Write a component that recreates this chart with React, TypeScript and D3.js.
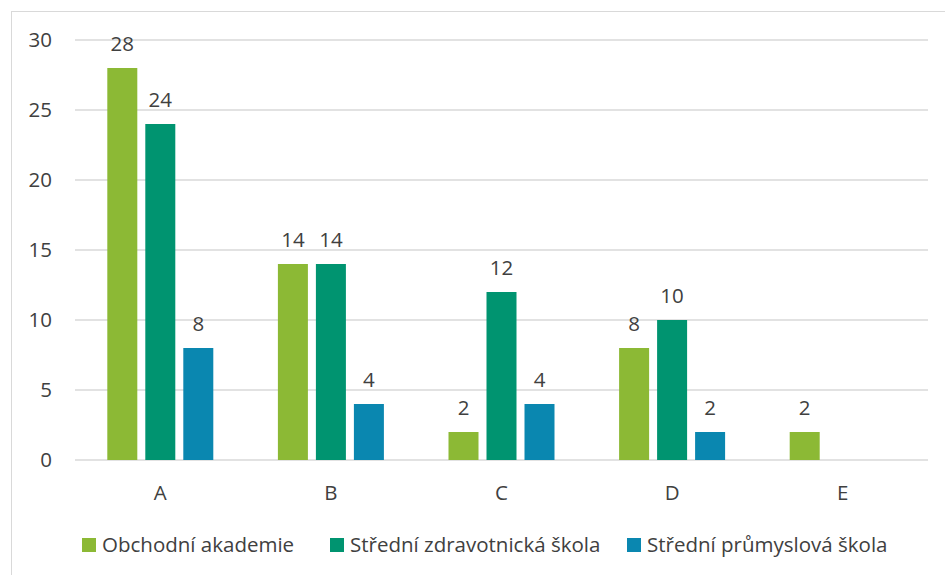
import React from "react";
import * as d3 from "d3";

const categories = ["A", "B", "C", "D", "E"];
const seriesNames = [
  "Obchodní akademie",
  "Střední zdravotnická škola",
  "Střední průmyslová škola",
];
const obchodni = [28, 14, 2, 8, 2];
const zdravotnicka = [24, 14, 12, 10, null];
const prumyslova = [8, 4, 4, 2, null];
const yTicks = [0, 5, 10, 15, 20, 25, 30];
const colors = ["#8cb935", "#009470", "#0a87b0"];

const W = 945;
const H = 575;
const FONT = "'Open Sans', sans-serif";
const TEXT = "#404040";
const FS = 20.5;

export default function App() {
  const series = [obchodni, zdravotnicka, prumyslova];
  const x = d3.scaleBand<string>().domain(categories).range([75, 928]);
  const y = d3.scaleLinear().domain([0, 30]).range([460, 40]);
  const barW = 30;
  const gap = 8;
  const groupW = barW * 3 + gap * 2;
  const legendX = [82, 330, 627];

  return (
    <svg
      width={W}
      height={H}
      style={{ position: "absolute", left: 0, top: 0, background: "#fff" }}
      fontFamily={FONT}
    >
      <rect x={11.5} y={11.5} width={960} height={600} fill="#fff" stroke="#d9d9d9" strokeWidth={1} />
      {yTicks.map((t) => (
        <g key={t}>
          <line x1={75} x2={928} y1={y(t)} y2={y(t)} stroke="#d9d9d9" strokeWidth={1.5} />
          <text x={52} y={y(t)} dy="0.35em" textAnchor="end" fontSize={FS} fill={TEXT}>
            {t}
          </text>
        </g>
      ))}
      {categories.map((c, ci) => {
        const cx = (x(c) as number) + x.bandwidth() / 2;
        const start = cx - groupW / 2;
        return (
          <g key={c}>
            {series.map((s, si) => {
              const v = s[ci];
              if (v == null) return null;
              const bx = start + si * (barW + gap);
              return (
                <g key={si}>
                  <rect x={bx} y={y(v)} width={barW} height={y(0) - y(v)} fill={colors[si]} />
                  <text
                    x={bx + barW / 2}
                    y={y(v) - 17}
                    textAnchor="middle"
                    fontSize={FS}
                    fill={TEXT}
                  >
                    {v}
                  </text>
                </g>
              );
            })}
            <text x={cx} y={493} dy="0.35em" textAnchor="middle" fontSize={FS} fill={TEXT}>
              {c}
            </text>
          </g>
        );
      })}
      {seriesNames.map((n, i) => (
        <g key={n}>
          <rect x={legendX[i]} y={538} width={14} height={14} fill={colors[i]} />
          <text x={legendX[i] + 20} y={545} dy="0.35em" fontSize={FS} fill={TEXT}>
            {n}
          </text>
        </g>
      ))}
    </svg>
  );
}
